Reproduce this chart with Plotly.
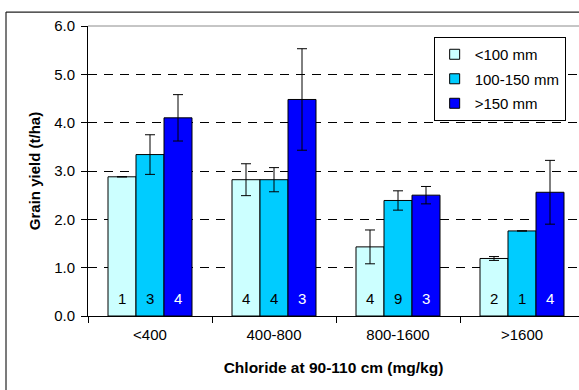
import plotly.graph_objects as go

# Chloride classes (mg/kg at 90-110 cm)
categories = ["<400", "400-800", "800-1600", ">1600"]

# Grain yield (t/ha) by growing-season rainfall class
yield_lt100 = [2.88, 2.82, 1.43, 1.19]
yield_100_150 = [3.34, 2.82, 2.39, 1.76]
yield_gt150 = [4.10, 4.48, 2.50, 2.56]

# Standard errors
err_lt100 = [0.0, 0.33, 0.35, 0.04]
err_100_150 = [0.41, 0.25, 0.20, 0.0]
err_gt150 = [0.48, 1.05, 0.18, 0.66]

# Number of sites per bar
n_lt100 = [1, 4, 4, 2]
n_100_150 = [3, 4, 9, 1]
n_gt150 = [4, 3, 3, 4]

series_names = ["<100 mm", "100-150 mm", ">150 mm"]
colors = ["#CCFFFF", "#00CCFF", "#0000FF"]
label_colors = ["black", "black", "white"]

FONT = "Liberation Sans, Arial, sans-serif"
FS = 15

values = [yield_lt100, yield_100_150, yield_gt150]
errors = [err_lt100, err_100_150, err_gt150]
counts = [n_lt100, n_100_150, n_gt150]

fig = go.Figure()
for i, name in enumerate(series_names):
    fig.add_trace(go.Bar(
        x=categories, y=values[i], name=name,
        marker=dict(color=colors[i], line=dict(color="black", width=1)),
        error_y=dict(type="data", array=errors[i], color="black",
                     thickness=1, width=5, visible=True),
        showlegend=False,
    ))

# Legend entries drawn as small square swatches
for i, name in enumerate(series_names):
    fig.add_trace(go.Scatter(
        x=[None], y=[None], mode="markers", name=name,
        marker=dict(symbol="square", size=10, color=colors[i],
                    line=dict(color="black", width=1)),
        legendgroup=name, showlegend=True,
    ))

# Site counts written near the base of each bar
shifts = [-28, 0, 28]
annotations = []
for i in range(3):
    for j, cat in enumerate(categories):
        annotations.append(dict(
            x=cat, y=0.37, xref="x", yref="y", xshift=shifts[i],
            text=str(counts[i][j]), showarrow=False,
            font=dict(family=FONT, size=FS, color=label_colors[i]),
        ))

shapes = [
    # grey frame line along the top of the plot area
    dict(type="line", xref="paper", yref="paper", x0=0, x1=1.01, y0=1, y1=1,
         line=dict(color="#8c8c8c", width=1), layer="above"),
    # outer chart border
    dict(type="line", xref="paper", yref="paper", x0=-0.167, x1=1.02,
         y0=1.048, y1=1.048, line=dict(color="#222222", width=1.2), layer="above"),
    dict(type="line", xref="paper", yref="paper", x0=-0.167, x1=-0.167,
         y0=1.048, y1=-0.35, line=dict(color="#222222", width=1.2), layer="above"),
]

fig.update_layout(
    width=579, height=390,
    margin=dict(l=88, r=0, t=26, b=74),
    paper_bgcolor="white", plot_bgcolor="white",
    barmode="group", bargap=0.3226, bargroupgap=0,
    font=dict(family=FONT, size=FS, color="black"),
    showlegend=True,
    legend=dict(
        x=0.704, y=0.962, xanchor="left", yanchor="top",
        bordercolor="black", borderwidth=1, bgcolor="white",
        font=dict(family=FONT, size=FS, color="black"),
        traceorder="grouped", tracegroupgap=2,
        itemwidth=30,
    ),
    xaxis=dict(
        type="category", range=[-0.5, -0.5 + 491 / 124],
        showline=True, linecolor="black", linewidth=1,
        ticks="outside", tickson="boundaries", ticklen=6, tickcolor="black",
        showgrid=False, ticklabelstandoff=5,
        tickfont=dict(family=FONT, size=FS),
        title=dict(text="<b>Chloride at 90-110 cm (mg/kg)</b>",
                   font=dict(family=FONT, size=15.5), standoff=20),
    ),
    yaxis=dict(
        range=[0, 6], dtick=1, tickformat=".1f",
        showline=True, linecolor="black", linewidth=1,
        ticks="outside", ticklen=6, tickcolor="black",
        showgrid=True, gridcolor="black", gridwidth=1, griddash="9px,7px",
        zeroline=False, ticklabelstandoff=3,
        tickfont=dict(family=FONT, size=FS),
        title=dict(text="<b>Grain yield (t/ha)</b>",
                   font=dict(family=FONT, size=15), standoff=9),
    ),
    annotations=annotations,
    shapes=shapes,
)

fig.write_html("out.html")
